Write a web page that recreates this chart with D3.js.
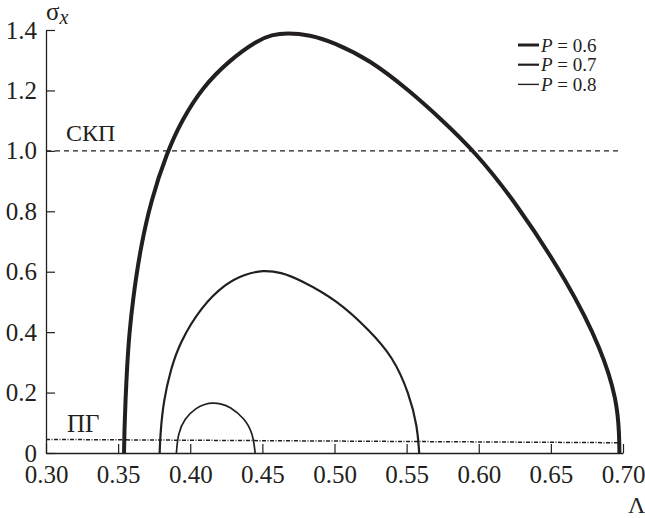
<!DOCTYPE html>
<html>
<head>
<meta charset="utf-8">
<script src="https://cdn.jsdelivr.net/npm/d3@7"></script>
<style>
  html, body { margin: 0; padding: 0; background: #fff; }
  svg { display: block; }
</style>
</head>
<body>
<div id="chart"></div>
<script>
// curve points: [Lambda, sigma_x]
const curveP06 = [
  [0.3541, 0.000], [0.3543, 0.066], [0.3551, 0.175], [0.3562, 0.285],
  [0.3577, 0.394], [0.3602, 0.506], [0.3652, 0.672], [0.3728, 0.837],
  [0.3840, 0.996], [0.3940, 1.100], [0.4086, 1.211], [0.4270, 1.299],
  [0.4462, 1.365], [0.4565, 1.384], [0.4670, 1.391], [0.4830, 1.384],
  [0.4990, 1.360], [0.5246, 1.301], [0.5517, 1.200], [0.5748, 1.101],
  [0.5967, 1.000], [0.6248, 0.836], [0.6624, 0.561], [0.6854, 0.340],
  [0.6958, 0.175], [0.6974, 0.060], [0.6975, 0.000]
];
const curveP07 = [
  [0.3788, 0.000], [0.3792, 0.060], [0.3815, 0.175], [0.3867, 0.280],
  [0.3925, 0.363], [0.4075, 0.484], [0.4250, 0.563], [0.4380, 0.592],
  [0.4503, 0.605], [0.4630, 0.598], [0.4757, 0.574], [0.5017, 0.506],
  [0.5240, 0.407], [0.5406, 0.318], [0.5517, 0.197], [0.5575, 0.087],
  [0.5587, 0.000]
];
const curveP08 = [
  [0.3904, 0.000], [0.3915, 0.065], [0.3961, 0.115], [0.4042, 0.150],
  [0.4100, 0.162], [0.4157, 0.166], [0.4215, 0.163], [0.4273, 0.154],
  [0.4376, 0.115], [0.4434, 0.065], [0.4450, 0.000]
];
const skpLine = [[0.30, 1.0], [0.6975, 1.0]];
const pgLine = [[0.30, 0.045], [0.6975, 0.034]];

const series = [
  { name: "0.6", points: curveP06, width: 4 },
  { name: "0.7", points: curveP07, width: 2.2 },
  { name: "0.8", points: curveP08, width: 1.7 }
];
const legendWidths = [3, 2.2, 1.4];

const xTicks = [0.30, 0.35, 0.40, 0.45, 0.50, 0.55, 0.60, 0.65, 0.70];
const yTicks = [0, 0.2, 0.4, 0.6, 0.8, 1.0, 1.2, 1.4];

const width = 645, height = 518;
const ink = "#231f20";
const serif = "'Liberation Serif', 'Times New Roman', serif";

const svg = d3.select("#chart").append("svg")
  .attr("width", width)
  .attr("height", height)
  .attr("viewBox", `0 0 ${width} ${height}`);

const x = d3.scaleLinear().domain([0.30, 0.70]).range([46, 623]);
const y = d3.scaleLinear().domain([0, 1.4]).range([453, 30]);

// axes, ticks pointing inward
const xAxis = svg.append("g")
  .attr("transform", `translate(0,${y(0)})`)
  .call(d3.axisBottom(x).tickValues(xTicks).tickSizeInner(-9).tickSizeOuter(0)
    .tickPadding(12).tickFormat(d3.format(".2f")));
const yAxis = svg.append("g")
  .attr("transform", `translate(${x(0.30)},0)`)
  .call(d3.axisLeft(y).tickValues(yTicks).tickSizeInner(-9).tickSizeOuter(0)
    .tickPadding(9).tickFormat(d => d === 0 ? "0" : d3.format(".1f")(d)));

[xAxis, yAxis].forEach(a => {
  a.select(".domain").attr("stroke", ink).attr("stroke-width", 1.3);
  a.selectAll(".tick line").attr("stroke", ink).attr("stroke-width", 1.2);
  a.selectAll(".tick text")
    .attr("fill", ink)
    .style("font-family", serif)
    .style("font-size", "25px");
});

const line = d3.line().x(d => x(d[0])).y(d => y(d[1]));

// reference levels
svg.append("path")
  .attr("d", line(skpLine))
  .attr("fill", "none")
  .attr("stroke", ink)
  .attr("stroke-width", 1.3)
  .attr("stroke-dasharray", "5,4");
svg.append("path")
  .attr("d", line(pgLine))
  .attr("fill", "none")
  .attr("stroke", ink)
  .attr("stroke-width", 1.5)
  .attr("stroke-dasharray", "4,1.5,1,1.5");

const smooth = d3.line().x(d => x(d[0])).y(d => y(d[1])).curve(d3.curveBasis);

series.forEach(s => {
  svg.append("path")
    .attr("d", smooth(s.points))
    .attr("fill", "none")
    .attr("stroke", ink)
    .attr("stroke-width", s.width)
    .attr("stroke-linejoin", "round");
});

// text labels
const label = (tx, ty, txt, size) => svg.append("text")
  .attr("x", tx).attr("y", ty)
  .attr("fill", ink)
  .style("font-family", serif)
  .style("font-size", size + "px")
  .text(txt);

label(66, 141, "СКП", 24);
label(67, 432, "ПГ", 25);
label(628, 513, "Λ", 24);

const sig = label(46, 20, "σ", 25);
sig.append("tspan")
  .attr("dy", 4)
  .style("font-style", "italic")
  .style("font-size", "20px")
  .text("x");

// legend
const legend = svg.append("g");
series.forEach((s, i) => {
  const by = 51.5 + i * 19.7;
  legend.append("line")
    .attr("x1", 518).attr("x2", 539)
    .attr("y1", by - 6.5).attr("y2", by - 6.5)
    .attr("stroke", ink)
    .attr("stroke-width", legendWidths[i]);
  const t = legend.append("text")
    .attr("x", 541).attr("y", by)
    .attr("fill", ink)
    .style("font-family", serif)
    .style("font-size", "19px");
  t.append("tspan").style("font-style", "italic").text("P");
  t.append("tspan").text(" = " + s.name);
});
</script>
</body>
</html>
